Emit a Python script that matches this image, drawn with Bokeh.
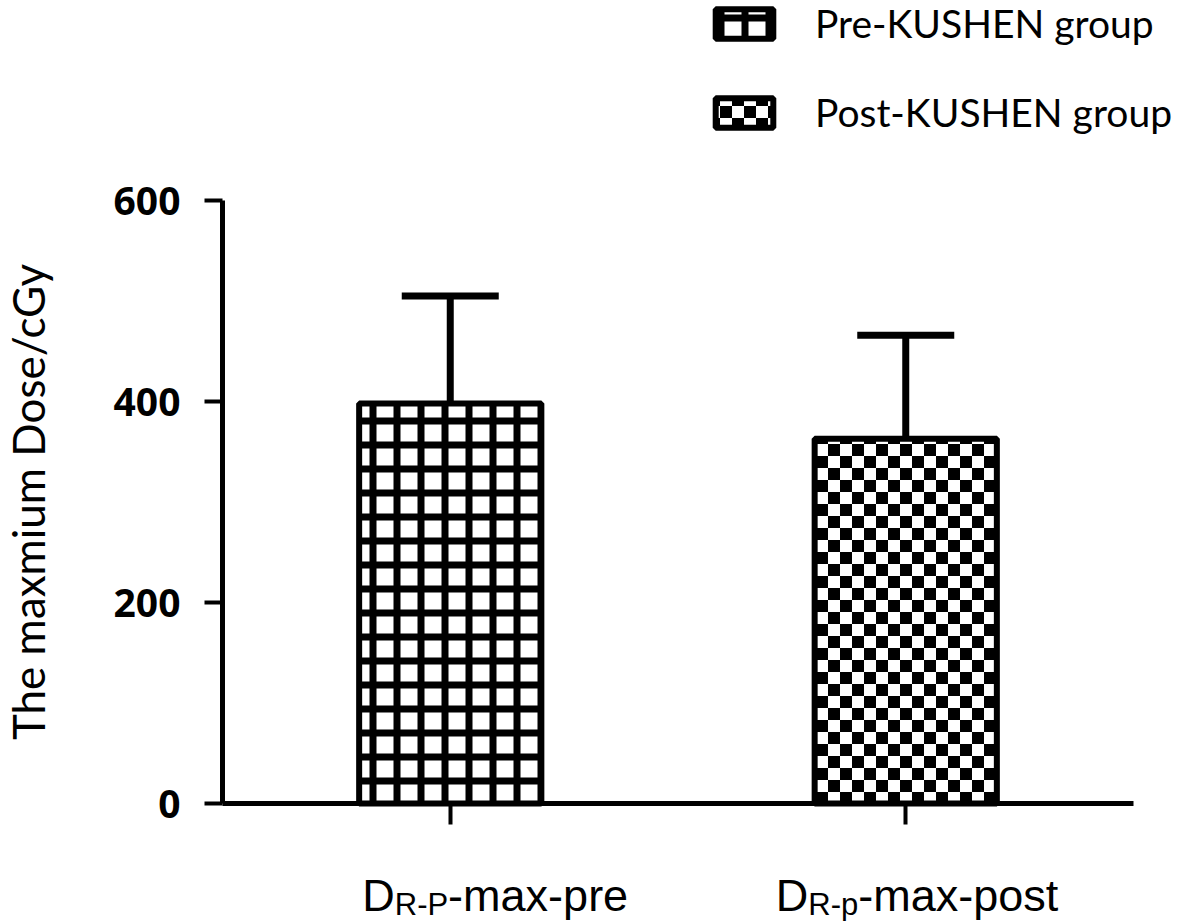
import zlib, struct, base64
from bokeh.plotting import figure
from bokeh.models import (Range1d, FixedTicker, Whisker, TeeHead, Legend, LegendItem,
                          Label, ImageURLTexture, ColumnDataSource)
from bokeh.core.properties import value
from bokeh.embed import file_html
from bokeh.resources import INLINE

# ---------------- data ----------------
groups = ["Pre-KUSHEN group", "Post-KUSHEN group"]
positions = [1, 2]
means = [398, 363]
errors = [107, 103]
label_main = ["D", "D"]
label_sub = ["R-P", "R-p"]
label_rest = ["-max-pre", "-max-post"]
y_ticks = [0, 200, 400, 600]
y_title = "The maxmium Dose/cGy"

# ---------------- layout constants (pixels) ----------------
W, H = 1181, 921
ax_left, ax_right = 222, 1133      # x pixel of x=0.5 and x=2.5
ax_bottom, ax_top = 803, 200       # y pixel of y=0 and y=600
xs = (ax_right - ax_left) / 2.0
ys = (ax_bottom - ax_top) / 600.0

p = figure(width=W, height=H, output_backend="svg", toolbar_location=None,
           x_range=Range1d(0.5 - ax_left / xs, 2.5 + (W - ax_right) / xs),
           y_range=Range1d(-(H - ax_bottom) / ys, 600 + ax_top / ys),
           min_border=0, min_border_left=0, min_border_right=0,
           min_border_top=0, min_border_bottom=0)
p.outline_line_color = None
p.grid.visible = False
p.background_fill_color = "white"
p.border_fill_color = "white"


def checker_png(n=24, c=12):
    rows = b"".join(b"\x00" + bytes(0 if ((x // c + y // c) % 2 == 0) else 255 for x in range(n))
                    for y in range(n))

    def chunk(t, d):
        return struct.pack(">I", len(d)) + t + d + struct.pack(">I", zlib.crc32(t + d) & 0xffffffff)
    ihdr = struct.pack(">IIBBBBB", n, n, 8, 0, 0, 0, 0)
    return (b"\x89PNG\r\n\x1a\n" + chunk(b"IHDR", ihdr) +
            chunk(b"IDAT", zlib.compress(rows)) + chunk(b"IEND", b""))


checker = ImageURLTexture(url="data:image/png;base64," + base64.b64encode(checker_png()).decode())

bar_w = 0.40
r1 = p.vbar(x=[positions[0]], top=[means[0]], width=bar_w, bottom=0,
            fill_color="white", line_color="black", line_width=6,
            hatch_pattern="+", hatch_color="black", hatch_scale=24, hatch_weight=7)
r2 = p.vbar(x=[positions[1]], top=[means[1]], width=bar_w, bottom=0,
            fill_color="white", line_color="black", line_width=6,
            hatch_pattern=value("checker"), hatch_extra={"checker": checker},
            hatch_color="black", hatch_scale=24)

err_src = ColumnDataSource(dict(base=positions, lower=means,
                                upper=[m + e for m, e in zip(means, errors)]))
wh = Whisker(base="base", lower="lower", upper="upper", source=err_src, dimension="height",
             line_color="black", line_width=7,
             upper_head=TeeHead(size=97, line_color="black", line_width=7),
             lower_head=None)
p.add_layout(wh)

# ---------------- axes (drawn at fixed data locations) ----------------
p.yaxis.fixed_location = 0.5
p.yaxis.bounds = (y_ticks[0], y_ticks[-1])
p.yaxis.ticker = FixedTicker(ticks=y_ticks)
p.yaxis.axis_line_width = 5
p.yaxis.axis_line_color = "black"
p.yaxis.major_tick_line_width = 4
p.yaxis.major_tick_out = 18
p.yaxis.major_tick_in = 0
p.yaxis.minor_tick_line_color = None
p.yaxis.major_label_text_font = "Noto Sans"
p.yaxis.major_label_text_font_style = "bold"
p.yaxis.major_label_text_font_size = "39px"
p.yaxis.major_label_text_color = "black"
p.yaxis.major_label_standoff = 24

p.xaxis.fixed_location = 0
p.xaxis.bounds = (0.5, 2.5)
p.xaxis.ticker = FixedTicker(ticks=positions)
p.xaxis.major_label_overrides = {1: "", 2: ""}
p.xaxis.axis_line_width = 5
p.xaxis.axis_line_color = "black"
p.xaxis.major_tick_line_width = 4
p.xaxis.major_tick_out = 21
p.xaxis.major_tick_in = 0
p.xaxis.minor_tick_line_color = None

# y-axis title
p.add_layout(Label(x=0.5, y=(y_ticks[0] + y_ticks[-1]) / 2, x_units="data", y_units="data",
                   x_offset=-195, text=y_title, angle=90, angle_units="deg",
                   text_font="Lato", text_font_size="44px", text_color="black",
                   text_align="center", text_baseline="alphabetic"))

# ---------------- category labels with subscripts ----------------
adv = {"D": 0.722, "R": 0.722, "-": 0.333, "P": 0.667, "p": 0.556, "m": 0.833,
       "a": 0.556, "x": 0.5, "r": 0.333, "e": 0.556, "o": 0.556, "s": 0.5, "t": 0.278}
main_px, sub_px = 45, 31
start_off = [-88, -130]
for i, pos in enumerate(positions):
    x0 = start_off[i]
    w_main = sum(adv.get(c, 0.55) for c in label_main[i]) * main_px
    w_sub = sum(adv.get(c, 0.55) for c in label_sub[i]) * sub_px
    common = dict(x=pos, y=0, x_units="data", y_units="data", text_font="Liberation Sans",
                  text_color="black", text_baseline="alphabetic", text_align="left")
    p.add_layout(Label(text=label_main[i], x_offset=x0, y_offset=-92,
                       text_font_size=f"{main_px}px", **common))
    p.add_layout(Label(text=label_sub[i], x_offset=x0 + w_main, y_offset=-101,
                       text_font_size=f"{sub_px}px", **common))
    p.add_layout(Label(text=label_rest[i], x_offset=x0 + w_main + w_sub, y_offset=-92,
                       text_font_size=f"{main_px}px", **common))

# ---------------- legend ----------------
legend = Legend(items=[LegendItem(label=groups[0], renderers=[r1]),
                       LegendItem(label=groups[1], renderers=[r2])],
                location=(708, 786), orientation="vertical",
                glyph_width=72, glyph_height=37, label_height=37, label_standoff=35,
                label_text_font="Lato", label_text_font_size="39px", label_text_color="black",
                spacing=43, padding=0, margin=0,
                border_line_color=None, background_fill_color=None, background_fill_alpha=0)
p.add_layout(legend)

open("out.html", "w").write(file_html(p, INLINE))
